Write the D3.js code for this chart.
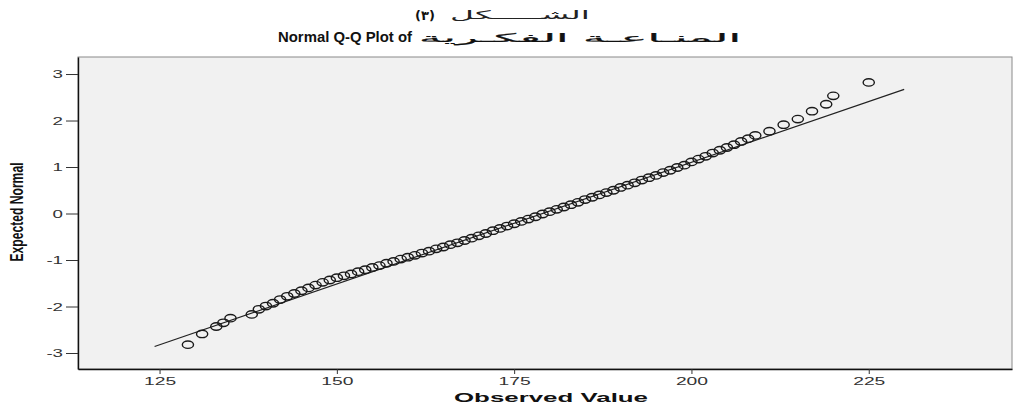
<!DOCTYPE html>
<html>
<head>
<meta charset="utf-8">
<script src="https://cdn.jsdelivr.net/npm/d3@7"></script>
<style>
  body { margin: 0; background: #fff; }
  svg text { font-family: "Liberation Sans", Arial, sans-serif; }
</style>
</head>
<body>
<div id="chart"></div>
<script>
// observed scores (ties already collapsed) and their expected normal values
const observed = [
  129, 131, 133, 134, 135, 138, 139, 140, 141, 142, 143, 144, 145, 146, 147, 148, 149, 150,
  151, 152, 153, 154, 155, 156, 157, 158, 159, 160, 161, 162, 163, 164, 165, 166, 167, 168,
  169, 170, 171, 172, 173, 174, 175, 176, 177, 178, 179, 180, 181, 182, 183, 184, 185, 186,
  187, 188, 189, 190, 191, 192, 193, 194, 195, 196, 197, 198, 199, 200, 201, 202, 203, 204,
  205, 206, 207, 208, 209, 211, 213, 215, 217, 219, 220, 225
];
const expected = [
  -2.82, -2.59, -2.43, -2.35, -2.25, -2.17, -2.06, -1.99, -1.93, -1.85, -1.78, -1.72, -1.66, -1.60, -1.54, -1.48, -1.43, -1.38,
  -1.34, -1.30, -1.25, -1.21, -1.16, -1.12, -1.07, -1.03, -0.98, -0.94, -0.90, -0.85, -0.81, -0.76, -0.72, -0.67, -0.63, -0.58,
  -0.53, -0.48, -0.43, -0.37, -0.32, -0.27, -0.22, -0.17, -0.12, -0.07, -0.01, 0.04, 0.09, 0.14, 0.19, 0.24, 0.30, 0.35,
  0.40, 0.45, 0.50, 0.56, 0.61, 0.66, 0.72, 0.77, 0.82, 0.88, 0.93, 0.99, 1.04, 1.11, 1.17, 1.23, 1.30, 1.36,
  1.42, 1.48, 1.55, 1.61, 1.68, 1.77, 1.91, 2.03, 2.20, 2.35, 2.53, 2.82
];

// the straight reference line, its two end points
const lineObserved = [124.3, 230.0];
const lineExpected = [-2.86, 2.67];

const xTicks = [125, 150, 175, 200, 225];
const yTicks = [3, 2, 1, 0, -1, -2, -3];

const cfg = {
  width: 1015,
  height: 410,
  margin: { left: 78, right: 3, top: 57, bottom: 41 }
};

// the picture is stretched sideways, so text is too
function stretch(sel, factor) {
  sel.each(function () {
    const w = this.getComputedTextLength();
    this.setAttribute("textLength", w * factor);
    this.setAttribute("lengthAdjust", "spacingAndGlyphs");
  });
}

const xScale = d3.scaleLinear([113.5, 245.2], [cfg.margin.left, cfg.width - cfg.margin.right]);
const yScale = d3.scaleLinear([-3.344, 3.366], [cfg.height - cfg.margin.bottom, cfg.margin.top]);

const svg = d3.select("#chart")
  .append("svg")
  .attr("width", cfg.width)
  .attr("height", cfg.height);

// titles
svg.append("text")
  .attr("x", 415).attr("y", 20)
  .style("font-weight", "bold").style("font-size", "13px")
  .style("font-family", "'DejaVu Sans', sans-serif")
  .attr("fill", "#111")
  .text("(٣)");

svg.append("text")
  .attr("x", 450).attr("y", 19)
  .style("font-size", "12px")
  .style("font-family", "'DejaVu Sans', sans-serif")
  .attr("fill", "#222")
  .attr("textLength", 140).attr("lengthAdjust", "spacingAndGlyphs")
  .text("الشـــــكل");

svg.append("text")
  .attr("x", 412).attr("y", 42)
  .attr("text-anchor", "end")
  .style("font-weight", "bold").style("font-size", "15px")
  .attr("fill", "#111")
  .attr("textLength", 134).attr("lengthAdjust", "spacingAndGlyphs")
  .text("Normal Q-Q Plot of");

svg.append("text")
  .attr("x", 419).attr("y", 42)
  .style("font-size", "12px")
  .style("font-family", "'DejaVu Sans', sans-serif")
  .attr("fill", "#111")
  .attr("stroke", "#111").attr("stroke-width", 0.2)
  .attr("textLength", 322).attr("lengthAdjust", "spacingAndGlyphs")
  .text("المنـاعـة الفكـرية");

// plot area
svg.append("rect")
  .attr("x", cfg.margin.left)
  .attr("y", cfg.margin.top)
  .attr("width", cfg.width - cfg.margin.left - cfg.margin.right)
  .attr("height", cfg.height - cfg.margin.top - cfg.margin.bottom)
  .attr("fill", "#f1f1f1")
  .attr("stroke", "#8a8a8a")
  .attr("stroke-width", 1);

// axes
const xAxis = svg.append("g")
  .attr("class", "x-axis")
  .attr("transform", `translate(0, ${cfg.height - cfg.margin.bottom})`)
  .call(d3.axisBottom(xScale).tickValues(xTicks).tickSize(5).tickPadding(3).tickSizeOuter(0));

const yAxis = svg.append("g")
  .attr("class", "y-axis")
  .attr("transform", `translate(${cfg.margin.left}, 0)`)
  .call(d3.axisLeft(yScale).tickValues(yTicks).tickFormat(d => String(d))
    .tickSize(12).tickPadding(3).tickSizeOuter(0));

svg.selectAll(".x-axis .domain, .y-axis .domain").attr("stroke", "#111").attr("stroke-width", 1.4);
svg.selectAll(".x-axis .tick line, .y-axis .tick line").attr("stroke", "#333");
svg.selectAll(".x-axis text, .y-axis text")
  .style("font-size", "11px")
  .style("font-family", "'Liberation Sans', Arial, sans-serif")
  .attr("fill", "#333");
stretch(svg.selectAll(".x-axis text"), 1.75);
stretch(svg.selectAll(".y-axis text"), 1.7);

// axis titles
svg.append("text")
  .attr("x", (cfg.margin.left + cfg.width - cfg.margin.right) / 2 + 6)
  .attr("y", 402)
  .attr("text-anchor", "middle")
  .style("font-weight", "bold").style("font-size", "13px")
  .attr("fill", "#111")
  .attr("textLength", 194).attr("lengthAdjust", "spacingAndGlyphs")
  .text("Observed Value");

svg.append("text")
  .attr("transform", "translate(23, 212) rotate(-90)")
  .attr("text-anchor", "middle")
  .style("font-weight", "bold").style("font-size", "18px")
  .attr("fill", "#111")
  .attr("textLength", 99).attr("lengthAdjust", "spacingAndGlyphs")
  .text("Expected Normal");

// reference line
const line = d3.line()
  .x(d => xScale(d[0]))
  .y(d => yScale(d[1]));

svg.append("path")
  .datum(d3.zip(lineObserved, lineExpected))
  .attr("d", line)
  .attr("fill", "none")
  .attr("stroke", "#222")
  .attr("stroke-width", 1.2);

// points
svg.append("g")
  .attr("class", "points")
  .selectAll("ellipse")
  .data(d3.zip(observed, expected))
  .join("ellipse")
  .attr("cx", d => xScale(d[0]))
  .attr("cy", d => yScale(d[1]))
  .attr("rx", 5.6)
  .attr("ry", 3.7)
  .attr("fill", "none")
  .attr("stroke", "#1a1a1a")
  .attr("stroke-width", 1.4);
</script>
</body>
</html>
